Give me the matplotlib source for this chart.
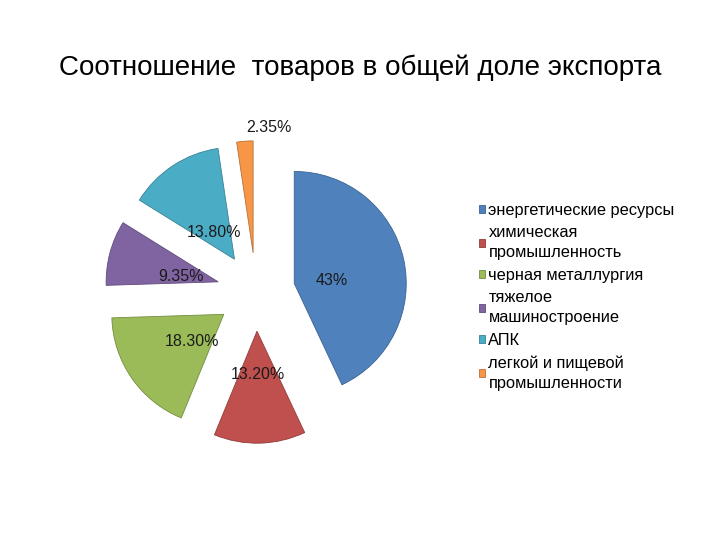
import matplotlib.pyplot as plt

plt.rcParams['font.family'] = ['Liberation Sans', 'DejaVu Sans']

# export structure, percent
categories = [
    "энергетические ресурсы",
    "химическая\nпромышленность",
    "черная металлургия",
    "тяжелое\nмашиностроение",
    "АПК",
    "легкой и пищевой\nпромышленности",
]
shares = [43, 13.20, 18.30, 9.35, 13.80, 2.35]
pct_labels = ["43%", "13.20%", "18.30%", "9.35%", "13.80%", "2.35%"]
colors = ["#4F81BD", "#C0504D", "#9BBB59", "#8064A2", "#4BACC6", "#F79646"]
edges = ["#3b6390", "#913c3a", "#748d43", "#604b7a", "#388196", "#b9713a"]

fig = plt.figure(figsize=(7.2, 5.4), dpi=100)
fig.text(0.5, 1 - 68 / 540, "Соотношение  товаров в общей доле экспорта",
         ha="center", va="center", fontsize=20)

# pie axes: centre ~ (256, 292) px, radius ~112 px
ax = fig.add_axes([(256 - 170) / 720, (540 - 292 - 170) / 540, 340 / 720, 340 / 540])

wedges, texts = ax.pie(
    shares, labels=pct_labels, colors=colors, startangle=90, counterclock=False,
    explode=[0.35] * len(shares), labeldistance=0.34, radius=1,
    wedgeprops=dict(linewidth=0.6),
    textprops=dict(fontsize=11.5, color="#1a1a1a", ha="center", va="center"),
)
for w, ec in zip(wedges, edges):
    w.set_edgecolor(ec)

lim = 170 / 112
ax.set_xlim(-lim, lim)
ax.set_ylim(-lim, lim)
ax.set_aspect("equal")
ax.axis("off")

# labels sit a little lower than the default spot
for t in texts[:-1]:
    x, y = t.get_position()
    t.set_position((x, y - 0.045))

# small slice label sits above the wedge
cx, cy = wedges[-1].center
texts[-1].set_position((cx + 0.14, cy + 1.12))

leg = fig.legend(wedges, categories, loc="upper left",
                 bbox_to_anchor=(472 / 720, 1 - 196 / 540), frameon=False,
                 fontsize=11.8, handlelength=0.4, handleheight=0.4,
                 handletextpad=0.2, labelspacing=0.45, borderaxespad=0)
for t in leg.get_texts():
    t.set_linespacing(1.45)

fig.savefig("out.png", dpi=100)
